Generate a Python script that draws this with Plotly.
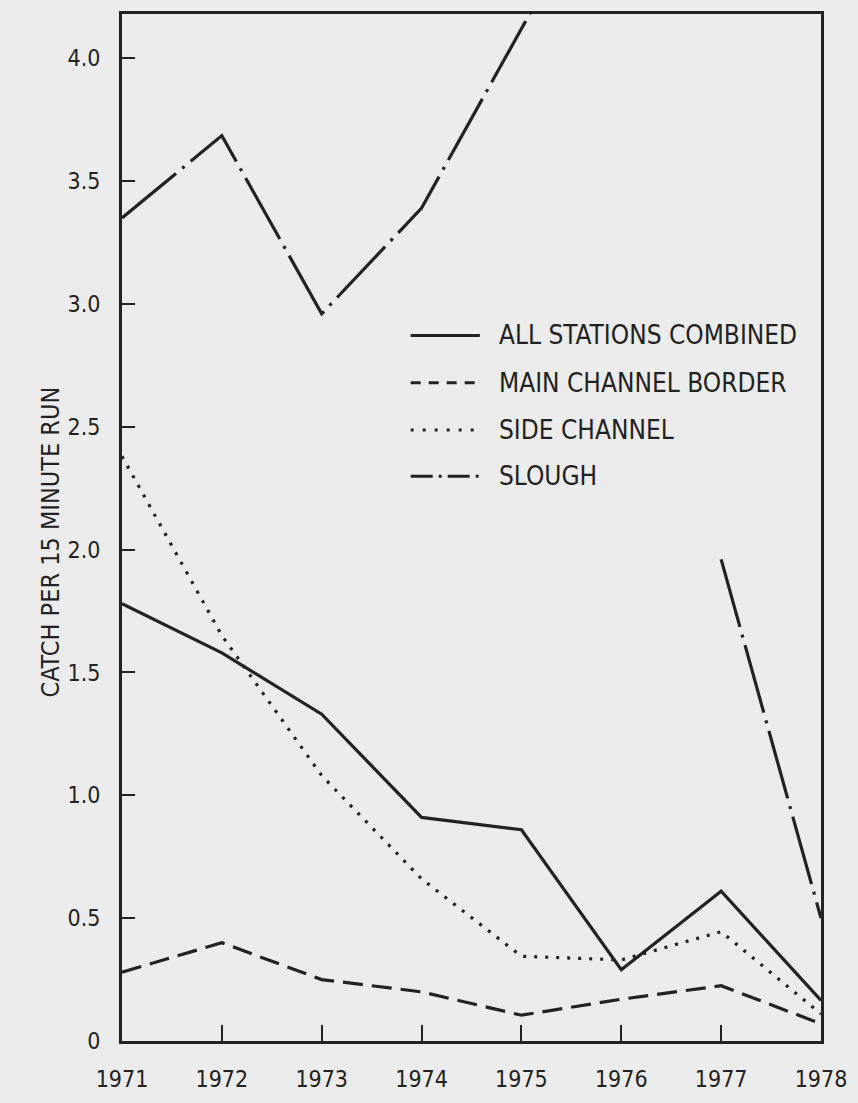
import plotly.graph_objects as go

years = [1971, 1972, 1973, 1974, 1975, 1976, 1977, 1978]
all_stations = [1.78, 1.58, 1.33, 0.91, 0.86, 0.29, 0.61, 0.165]
main_channel = [0.28, 0.40, 0.25, 0.20, 0.105, 0.17, 0.225, 0.07]
side_channel = [2.38, 1.65, 1.08, 0.66, 0.345, 0.33, 0.445, 0.11]
slough_years_a = [1971, 1972, 1973, 1974, 1975, 1976]
slough_a = [3.35, 3.685, 2.96, 3.39, 4.12, 4.84]
slough_years_b = [1977, 1978]
slough_b = [1.96, 0.50]

series_names = ["ALL STATIONS COMBINED", "MAIN CHANNEL BORDER", "SIDE CHANNEL", "SLOUGH"]
y_tick_vals = [0, 0.5, 1.0, 1.5, 2.0, 2.5, 3.0, 3.5, 4.0]
y_tick_text = ["0", "0.5", "1.0", "1.5", "2.0", "2.5", "3.0", "3.5", "4.0"]
y_title = "CATCH PER 15 MINUTE RUN"

INK = "#222222"
BG = "#ececec"
FONT = "Liberation Sans Narrow, DejaVu Sans Condensed, Liberation Sans, sans-serif"

plot_dashes = ["solid", "20px,9px", "3px,8px", "70px,8px,3px,8px"]
legend_dashes = ["solid", "10px,8px", "3px,9px", "22px,6px,3px,6px"]

fig = go.Figure()
fig.add_trace(go.Scatter(x=years, y=all_stations, mode="lines", name=series_names[0],
                         line=dict(color=INK, width=3.2, dash=plot_dashes[0]), showlegend=False))
fig.add_trace(go.Scatter(x=years, y=main_channel, mode="lines", name=series_names[1],
                         line=dict(color=INK, width=3.2, dash=plot_dashes[1]), showlegend=False))
fig.add_trace(go.Scatter(x=years, y=side_channel, mode="lines", name=series_names[2],
                         line=dict(color=INK, width=3.2, dash=plot_dashes[2]), showlegend=False))
fig.add_trace(go.Scatter(x=slough_years_a, y=slough_a, mode="lines", name=series_names[3],
                         line=dict(color=INK, width=3.2, dash=plot_dashes[3]), showlegend=False))
fig.add_trace(go.Scatter(x=slough_years_b, y=slough_b, mode="lines", name=series_names[3],
                         line=dict(color=INK, width=3.2, dash=plot_dashes[3]), showlegend=False))

# manual legend (line samples + labels)
legend_rows = [0.687, 0.641, 0.595, 0.550]
shapes = []
annotations = []
for name, dash, yy in zip(series_names, legend_dashes, legend_rows):
    shapes.append(dict(type="line", xref="paper", yref="paper", x0=0.413, x1=0.512, y0=yy, y1=yy,
                       line=dict(color=INK, width=3, dash=dash)))
    annotations.append(dict(xref="paper", yref="paper", x=0.536, y=yy, text=name, showarrow=False,
                            xanchor="left", yanchor="middle", font=dict(family=FONT, size=26, color=INK)))

annotations.append(dict(xref="paper", yref="paper", x=-0.102, y=0.486, text=y_title, showarrow=False,
                        textangle=-90, xanchor="center", yanchor="middle",
                        font=dict(family=FONT, size=25, color=INK)))

fig.update_layout(
    width=858, height=1103,
    margin=dict(l=122, r=31, t=11, b=50),
    paper_bgcolor=BG, plot_bgcolor=BG,
    font=dict(family=FONT, size=23, color=INK),
    shapes=shapes, annotations=annotations,
    showlegend=False,
)
fig.update_xaxes(range=[1971, 1978], tickvals=years, ticktext=[str(y) for y in years],
                 showgrid=False, zeroline=False, showline=True, linecolor=INK, linewidth=3, mirror=True,
                 ticks="inside", ticklen=16, tickwidth=2, tickcolor=INK, ticklabelstandoff=15,
                 tickfont=dict(family=FONT, size=23, color=INK))
fig.update_yaxes(range=[0, 4.18], tickvals=y_tick_vals, ticktext=y_tick_text,
                 showgrid=False, zeroline=False, showline=True, linecolor=INK, linewidth=3, mirror=True,
                 ticks="inside", ticklen=13, tickwidth=2, tickcolor=INK, ticklabelstandoff=14,
                 tickfont=dict(family=FONT, size=23, color=INK))

fig.write_html("out.html")
